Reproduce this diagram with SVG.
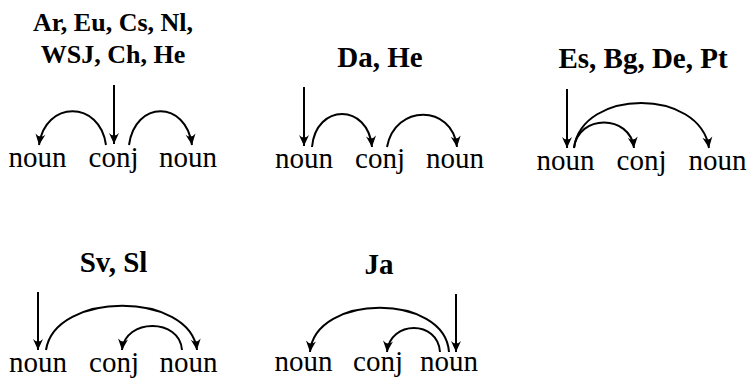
<svg xmlns="http://www.w3.org/2000/svg" width="748" height="379" viewBox="0 0 748 379">
<style>
.w{font-family:"Liberation Serif","DejaVu Serif",serif;font-size:29px;fill:#000;text-anchor:middle}
.t{font-family:"Liberation Serif","DejaVu Serif",serif;font-size:29px;font-weight:bold;fill:#000;text-anchor:middle}
.t1{font-size:26px}
.c{fill:none;stroke:#000;stroke-width:2;marker-end:url(#ah)}
</style>
<defs>
<marker id="ah" markerUnits="userSpaceOnUse" markerWidth="14" markerHeight="14" viewBox="-12 -6 14 12" refX="0" refY="0" orient="auto">
<path d="M0,0 L-11,-5 Q-6,0 -11,5 Z" fill="#000"/>
</marker>
</defs>
<rect width="748" height="379" fill="#fff"/>
<g id="panel1">
<text class="t t1" x="113" y="31">Ar, Eu, Cs, Nl,</text>
<text class="t t1" x="113" y="63">WSJ, Ch, He</text>
<text class="w" x="37.5" y="167">noun</text>
<text class="w" x="113.5" y="167">conj</text>
<text class="w" x="188" y="167">noun</text>
</g>
<g id="panel2">
<text class="t" x="380" y="67">Da, He</text>
<text class="w" x="304" y="168">noun</text>
<text class="w" x="380" y="168">conj</text>
<text class="w" x="455" y="168">noun</text>
</g>
<g id="panel3">
<text class="t" x="643" y="68">Es, Bg, De, Pt</text>
<text class="w" x="565.5" y="170">noun</text>
<text class="w" x="641.5" y="170">conj</text>
<text class="w" x="717.5" y="170">noun</text>
</g>
<g id="panel4">
<text class="t" x="113.5" y="272">Sv, Sl</text>
<text class="w" x="38" y="372">noun</text>
<text class="w" x="114" y="372">conj</text>
<text class="w" x="188.5" y="372">noun</text>
</g>
<g id="panel5">
<text class="t" x="379" y="274">Ja</text>
<text class="w" x="303.5" y="371">noun</text>
<text class="w" x="378" y="371">conj</text>
<text class="w" x="449" y="371">noun</text>
</g>
<g id="connectors">
<path class="c" d="M114,85 L114,144"/>
<path class="c" d="M106,145 C100,100 45,100 39,145"/>
<path class="c" d="M129,145 C135,100 186,100 192,145"/>
<path class="c" d="M304,87 L304,146"/>
<path class="c" d="M312,147 C316,103 368,103 372,147"/>
<path class="c" d="M387,147 C395,104 452,104 457,147"/>
<path class="c" d="M567,89 L567,148"/>
<path class="c" d="M574,148 C578,114 630,114 634,148"/>
<path class="c" d="M574,148 C582,88 700,88 709,148"/>
<path class="c" d="M38,292 L38,350"/>
<path class="c" d="M46,350 C55,291 190,291 197,350"/>
<path class="c" d="M182,350 C180,318 125,318 122,350"/>
<path class="c" d="M456,294 L456,352"/>
<path class="c" d="M449,352 C445,293 315,293 310,352"/>
<path class="c" d="M440,352 C438,320 390,320 387,352"/>
</g>
</svg>
